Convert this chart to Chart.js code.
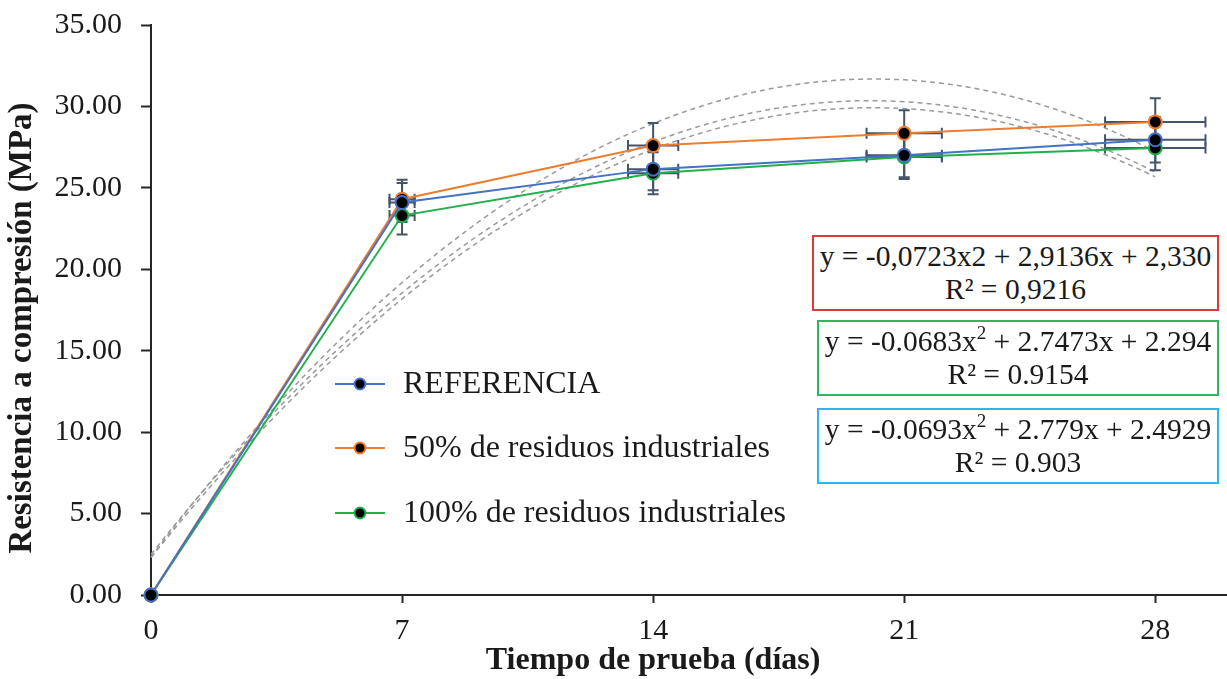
<!DOCTYPE html>
<html lang="es">
<head>
<meta charset="UTF-8">
<title>Resistencia a compresión</title>
<script src="https://cdn.jsdelivr.net/npm/chart.js"></script>
<style>
  body { margin: 0; background: #fff; }
  #wrap { position: relative; width: 1227px; height: 679px; }
  .eq {
    position: absolute; box-sizing: border-box; border: 2px solid; background: #fff;
    font-family: 'Liberation Serif', 'Times New Roman', serif; font-size: 29.5px;
    line-height: 33px; text-align: center; color: #1a1a1a; padding-top: 3px;
  }
  .eq sup { font-size: 19px; line-height: 0; vertical-align: 12px; }
</style>
</head>
<body>
<div id="wrap">
  <canvas id="chart" width="1227" height="679"></canvas>
  <div class="eq" style="left:812px; top:235px; width:407px; height:76px; border-color:#d93b3b;">y = -0,0723x2 + 2,9136x + 2,330<br>R² = 0,9216</div>
  <div class="eq" style="left:817px; top:320px; width:402px; height:76px; border-color:#35b35f;">y = -0.0683x<sup>2</sup> + 2.7473x + 2.294<br>R² = 0.9154</div>
  <div class="eq" style="left:817px; top:408px; width:402px; height:76px; border-color:#2cb5ef;">y = -0.0693x<sup>2</sup> + 2.779x + 2.4929<br>R² = 0.903</div>
</div>
<script>
// test days and tick labels
const days = [0, 7, 14, 21, 28];
const xTicks = [0, 7, 14, 21, 28];
const yTicks = [0, 5, 10, 15, 20, 25, 30, 35];

// compressive strength (MPa)
const labels = ['REFERENCIA', '50% de residuos industriales', '100% de residuos industriales'];
const refValues = [0, 24.1, 26.15, 27.0, 27.95];
const res50Values = [0, 24.3, 27.6, 28.35, 29.05];
const res100Values = [0, 23.3, 25.9, 26.9, 27.45];

// error bars
const refErr = [0, 1.2, 1.3, 1.35, 1.4];
const res50Err = [0, 1.2, 1.38, 1.42, 1.45];
const res100Err = [0, 1.17, 1.29, 1.35, 1.37];
const dayErr = [0, 0.35, 0.7, 1.05, 1.4];

// polynomial trendlines (a*x^2 + b*x + c), from the boxes
const trendA = [-0.0723, -0.0683, -0.0693];
const trendB = [2.9136, 2.7473, 2.779];
const trendC = [2.330, 2.294, 2.4929];

const xTitle = 'Tiempo de prueba (días)';
const yTitle = 'Resistencia a compresión (MPa)';

const colors = ['#4472C4', '#ED7D31', '#22B04B'];
const serif = "'Liberation Serif', 'Times New Roman', serif";
const textColor = '#1a1a1a';
const axisColor = '#262626';

const allValues = [refValues, res50Values, res100Values];
const allErr = [refErr, res50Err, res100Err];

// dashed trend curves, drawn through the chart scales
const trendLines = {
  id: 'trendLines',
  beforeDatasetsDraw(chart) {
    const { ctx, scales: { x, y } } = chart;
    ctx.save();
    ctx.strokeStyle = '#9a9a9a';
    ctx.lineWidth = 1.5;
    ctx.setLineDash([5, 4]);
    for (let k = 0; k < trendA.length; k++) {
      ctx.beginPath();
      for (let t = 0; t <= 280; t++) {
        const d = t / 10;
        const v = trendA[k] * d * d + trendB[k] * d + trendC[k];
        const px = x.getPixelForValue(d), py = y.getPixelForValue(v);
        if (t === 0) ctx.moveTo(px, py); else ctx.lineTo(px, py);
      }
      ctx.stroke();
    }
    ctx.restore();
  }
};

// x and y error bars
const errorBars = {
  id: 'errorBars',
  beforeDatasetsDraw(chart) {
    const { ctx, scales: { x, y } } = chart;
    const cap = 5.5;
    ctx.save();
    ctx.strokeStyle = '#44546A';
    ctx.lineWidth = 2;
    allValues.forEach((vals, s) => {
      vals.forEach((v, i) => {
        const px = x.getPixelForValue(days[i]);
        const py = y.getPixelForValue(v);
        const ey = allErr[s][i], ex = dayErr[i];
        if (ey > 0) {
          const t = y.getPixelForValue(v + ey), b = y.getPixelForValue(v - ey);
          ctx.beginPath();
          ctx.moveTo(px, t); ctx.lineTo(px, b);
          ctx.moveTo(px - cap, t); ctx.lineTo(px + cap, t);
          ctx.moveTo(px - cap, b); ctx.lineTo(px + cap, b);
          ctx.stroke();
        }
        if (ex > 0) {
          const l = x.getPixelForValue(days[i] - ex), r = x.getPixelForValue(days[i] + ex);
          ctx.beginPath();
          ctx.moveTo(l, py); ctx.lineTo(r, py);
          ctx.moveTo(l, py - cap); ctx.lineTo(l, py + cap);
          ctx.moveTo(r, py - cap); ctx.lineTo(r, py + cap);
          ctx.stroke();
        }
      });
    });
    ctx.restore();
  }
};

// legend inside the plot
const insideLegend = {
  id: 'insideLegend',
  afterDraw(chart, args, opts) {
    const ctx = chart.ctx;
    ctx.save();
    ctx.font = '32px ' + serif;
    ctx.textBaseline = 'middle';
    ctx.textAlign = 'left';
    chart.data.datasets.forEach((ds, i) => {
      const yy = opts.rows[i];
      ctx.strokeStyle = ds.borderColor;
      ctx.lineWidth = 2;
      ctx.beginPath();
      ctx.moveTo(opts.x1, yy); ctx.lineTo(opts.x2, yy);
      ctx.stroke();
      ctx.beginPath();
      ctx.arc((opts.x1 + opts.x2) / 2, yy, 5.5, 0, Math.PI * 2);
      ctx.fillStyle = '#000';
      ctx.fill();
      ctx.stroke();
      ctx.fillStyle = textColor;
      ctx.fillText(ds.label, opts.textX, yy + 1);
    });
    ctx.restore();
  }
};

// axis titles: x centred under the middle tick, y slightly below plot centre
const axisTitles = {
  id: 'axisTitles',
  afterDraw(chart, args, opts) {
    const { ctx, scales: { x, y } } = chart;
    ctx.save();
    ctx.fillStyle = textColor;
    ctx.font = 'bold 32px ' + serif;
    ctx.textAlign = 'center';
    ctx.textBaseline = 'middle';
    ctx.fillText(xTitle, x.getPixelForValue(xTicks[2]), opts.xTitleY);
    ctx.translate(opts.yTitleX, opts.yTitleY);
    ctx.rotate(-Math.PI / 2);
    ctx.font = 'bold 33px ' + serif;
    ctx.fillText(yTitle, 0, 0);
    ctx.restore();
  }
};

const ctx = document.getElementById('chart').getContext('2d');
const myChart = new Chart(ctx, {
  type: 'line',
  data: {
    datasets: allValues.map((vals, s) => ({
      label: labels[s],
      data: days.map((d, i) => ({ x: d, y: vals[i] })),
      borderColor: colors[s],
      backgroundColor: '#000',
      pointBackgroundColor: '#000',
      pointBorderColor: colors[s],
      pointBorderWidth: 2,
      pointRadius: 6.5,
      borderWidth: 2,
      tension: 0,
      clip: false
    }))
  },
  options: {
    responsive: false,
    devicePixelRatio: 1,
    animation: false,
    layout: { autoPadding: false, padding: { top: 25, right: 0, left: 0, bottom: 0 } },
    plugins: {
      legend: { display: false },
      tooltip: { enabled: false },
      insideLegend: { x1: 335, x2: 385, textX: 403, rows: [384, 448, 513] },
      axisTitles: { xTitleY: 661, yTitleX: 22, yTitleY: 328 }
    },
    scales: {
      x: {
        type: 'linear',
        min: 0,
        max: 30,
        afterBuildTicks(s) { s.ticks = xTicks.map(v => ({ value: v })); },
        afterFit(s) { s.height = 84; s.paddingLeft = 0; s.paddingRight = 0; },
        ticks: { padding: 10, color: textColor, font: { family: serif, size: 30 }, maxRotation: 0, autoSkip: false },
        grid: { drawOnChartArea: false, color: axisColor, tickColor: axisColor, tickLength: 8, tickWidth: 2 },
        border: { color: axisColor, width: 2 }
      },
      y: {
        min: 0,
        max: 35,
        afterBuildTicks(s) { s.ticks = yTicks.map(v => ({ value: v })); },
        afterFit(s) { s.width = 151; s.paddingTop = 0; s.paddingBottom = 0; },
        ticks: { padding: 19, color: textColor, font: { family: serif, size: 30 }, callback: v => v.toFixed(2) },
        grid: { drawOnChartArea: false, color: axisColor, tickColor: axisColor, tickLength: 10, tickWidth: 2 },
        border: { color: axisColor, width: 2 }
      }
    }
  },
  plugins: [trendLines, errorBars, insideLegend, axisTitles]
});
</script>
</body>
</html>
